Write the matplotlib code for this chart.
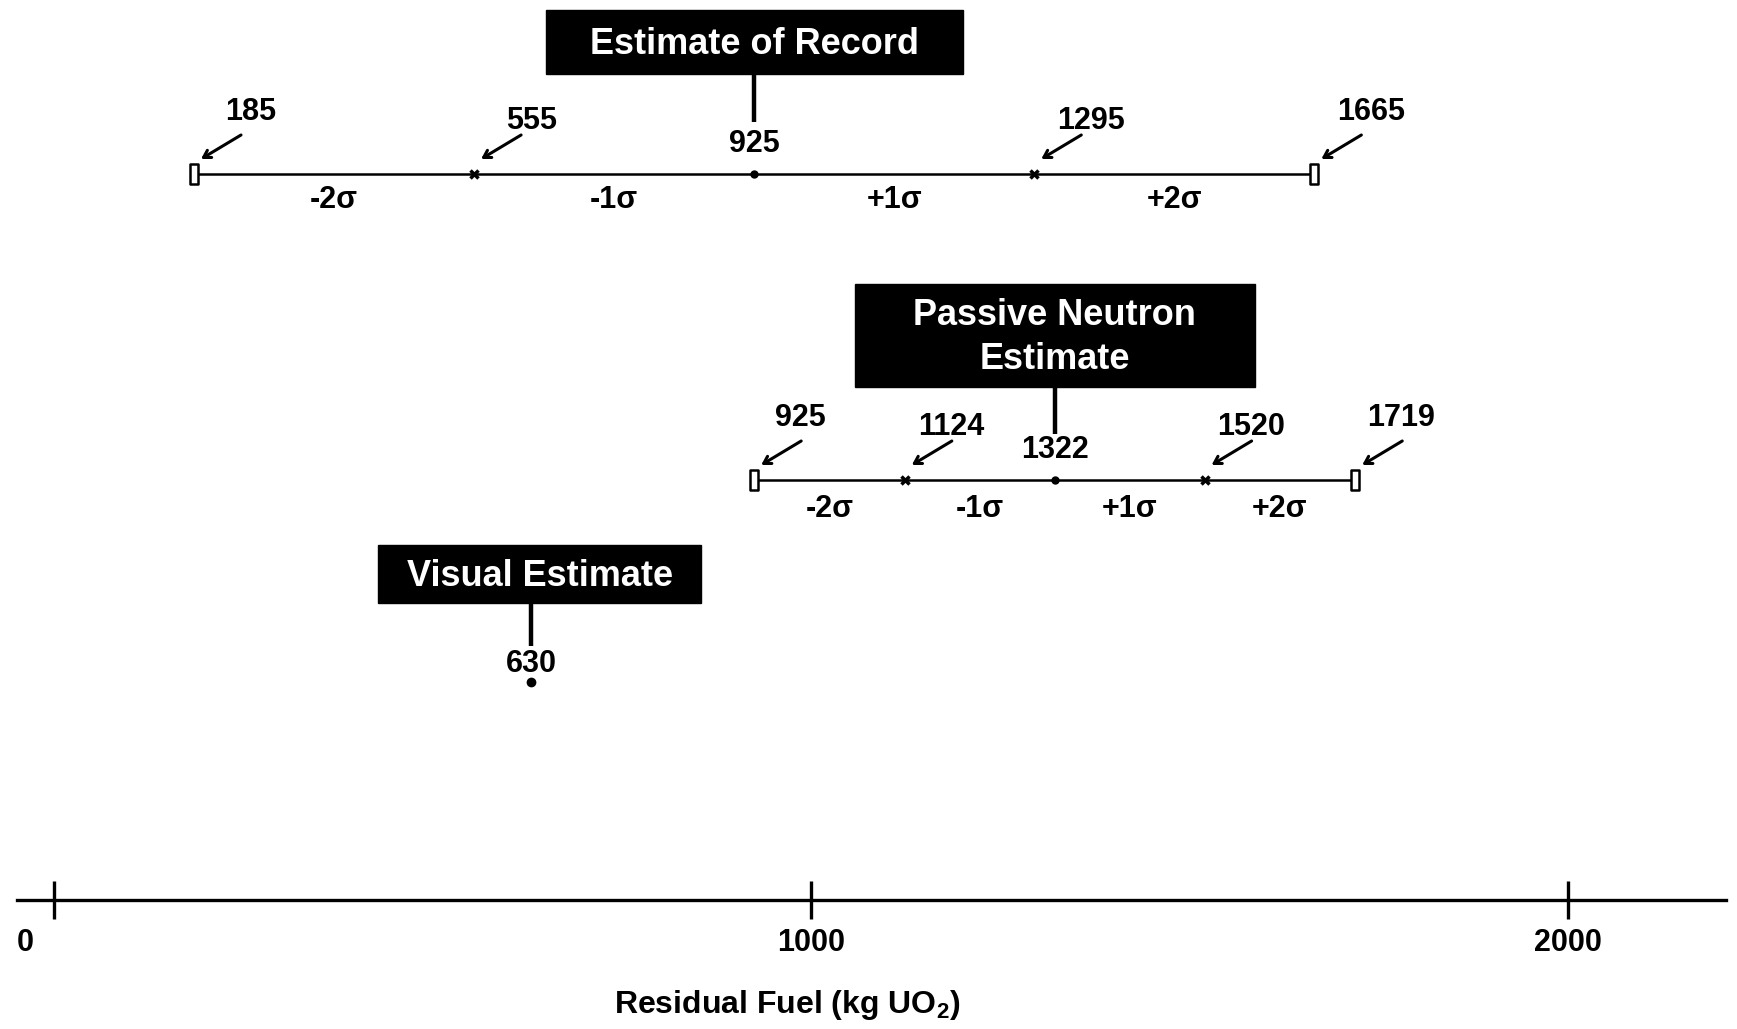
import matplotlib
matplotlib.use("Agg")
from matplotlib import pyplot as plt
from matplotlib.patches import Rectangle
from matplotlib.path import Path
from matplotlib.transforms import offset_copy, ScaledTranslation

# values (kg UO2)
record_vals = [185, 555, 925, 1295, 1665]
neutron_vals = [925, 1124, 1322, 1520, 1719]
visual_val = 630
sigma_labels = ["-2σ", "-1σ", "+1σ", "+2σ"]
tick_vals = [0, 1000, 2000]
tick_labels = ["0", "1000", "2000"]

plt.rcParams["font.family"] = ["Liberation Sans", "DejaVu Sans"]
plt.rcParams["mathtext.fontset"] = "custom"
plt.rcParams["mathtext.rm"] = "Liberation Sans"
plt.rcParams["mathtext.bf"] = "Liberation Sans:bold"

W, H = 1737, 1029
fig = plt.figure(figsize=(W / 100, H / 100), dpi=100)
ax = fig.add_axes([0, 0, 1, 1])
ax.set_xlim(-71.3, 2223.3)
ax.set_ylim(H, 0)
PX = (2223.3 + 71.3) / W  # data units per pixel along x

end_marker = Path([(-0.21, -0.5), (0.21, -0.5), (0.21, 0.5), (-0.21, 0.5), (-0.21, -0.5)],
                  [Path.MOVETO, Path.LINETO, Path.LINETO, Path.LINETO, Path.CLOSEPOLY])


def label_box(xc, top, w_px, h_px, text, shift_px=0):
    w = w_px * PX
    x0 = xc + shift_px * PX - w / 2
    ax.add_patch(Rectangle((x0, top), w, h_px, color="black", zorder=3))
    ax.text(x0 + w / 2, top + h_px / 2 + 2, text, color="white", ha="center", va="center",
            fontsize=26, fontweight="bold", linespacing=1.35, zorder=4)


def connector(x, y0, y1):
    ax.plot([x, x], [y0, y1], color="black", lw=3.2, solid_capstyle="butt", zorder=3)


def draw_row(vals, y, end_dy, sig_dy, lab_dx):
    ax.plot([vals[0], vals[-1]], [y, y], color="black", lw=1.8, zorder=2)
    ax.plot([vals[0], vals[-1]], [y, y], ls="none", marker=end_marker, ms=15,
            mfc="white", mec="black", mew=1.8, zorder=4)
    ax.plot([vals[1], vals[3]], [y, y], ls="none", marker="x", ms=6, mew=2.5,
            color="black", zorder=4)
    ax.plot([vals[2]], [y], ls="none", marker="o", ms=5, color="black", zorder=4)

    head = offset_copy(ax.transData, fig=fig, x=7, y=15, units="dots")
    for i in [0, 1, 3, 4]:
        v = vals[i]
        dy = end_dy if i in (0, 4) else 53
        ax.annotate(str(v), xy=(v, y), xytext=(lab_dx, dy), textcoords="offset pixels",
                    ha="center", va="center", fontsize=22, fontweight="bold")
        ax.annotate("", xy=(v, y), xycoords=head, xytext=(40, 24),
                    textcoords="offset pixels",
                    arrowprops=dict(arrowstyle="->,head_length=0.5,head_width=0.3",
                                    lw=2.2, color="black", shrinkA=0, shrinkB=0))
    ax.annotate(str(vals[2]), xy=(vals[2], y), xytext=(0, 30), textcoords="offset pixels",
                ha="center", va="center", fontsize=22, fontweight="bold")
    for k, lab in enumerate(sigma_labels):
        xm = (vals[k] + vals[k + 1]) / 2
        ax.text(xm, y + sig_dy, lab, ha="center", va="center", fontsize=22, fontweight="bold")


# Estimate of Record
draw_row(record_vals, 174, 62, 26, 57)
label_box(record_vals[2], 10, 417, 64, "Estimate of Record")
connector(record_vals[2], 74, 122)

# Passive Neutron Estimate
draw_row(neutron_vals, 480, 62, 29, 46)
label_box(neutron_vals[2], 284, 400, 103, "Passive Neutron\nEstimate")
connector(neutron_vals[2], 387, 434)

# Visual Estimate
ax.plot([visual_val], [682], ls="none", marker="o", ms=6, color="black", zorder=4)
ax.annotate(str(visual_val), xy=(visual_val, 682), xytext=(0, 18), textcoords="offset pixels",
            ha="center", va="center", fontsize=22, fontweight="bold")
label_box(visual_val, 545, 323, 58, "Visual Estimate", shift_px=9)
connector(visual_val, 603, 646)

# bottom axis
for s in ["top", "left", "right"]:
    ax.spines[s].set_visible(False)
ax.spines["bottom"].set_position(("data", 900))
ax.spines["bottom"].set_bounds(-49, 2209)
ax.spines["bottom"].set_linewidth(2.4)
ax.set_yticks([])
ax.set_xticks(tick_vals)
ax.set_xticklabels(tick_labels, fontsize=22, fontweight="bold")
ax.tick_params(axis="x", direction="inout", length=27, width=2.4, pad=7)
zero_lab = ax.xaxis.get_major_ticks()[0].label1
zero_lab.set_transform(zero_lab.get_transform() + ScaledTranslation(-0.29, 0, fig.dpi_scale_trans))
ax.set_xlabel(r"Residual Fuel (kg UO$_\mathbf{2}$)", fontsize=23, fontweight="bold")
ax.xaxis.set_label_coords(787 / W, 1 - 988 / H)

fig.savefig("out.png", dpi=100)
plt.close(fig)
